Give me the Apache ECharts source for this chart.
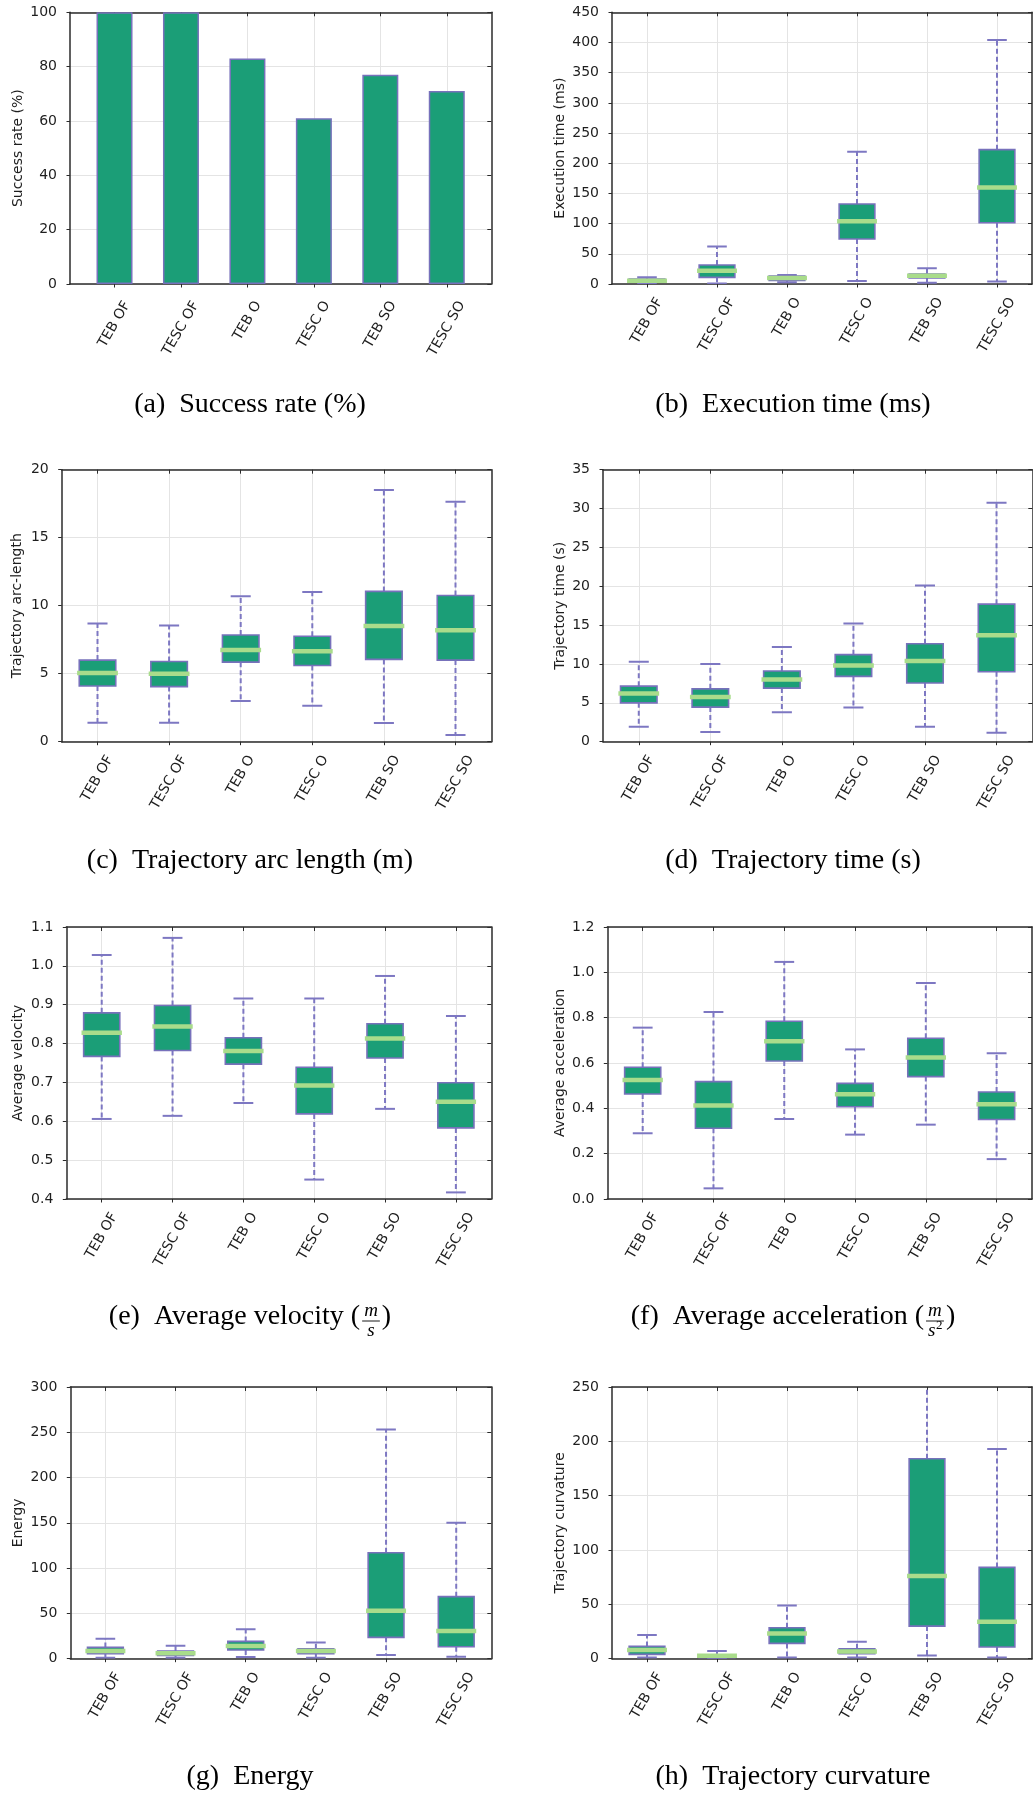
<!DOCTYPE html>
<html>
<head>
<meta charset="utf-8">
<script src="https://cdn.jsdelivr.net/npm/echarts@6/dist/echarts.min.js"></script>
<style>
  html, body { margin: 0; padding: 0; background: #ffffff; }
  #chart { width: 1033px; height: 1794px; }
</style>
</head>
<body>
<div id="chart"></div>
<script>
// Planner variants compared in every panel
const categories = ['TEB OF', 'TESC OF', 'TEB O', 'TESC O', 'TEB SO', 'TESC SO'];

// (a) success rate, percent
const successRate = [100, 100, 83, 61, 77, 71];

// Box statistics per planner: [lower whisker, Q1, median, Q3, upper whisker]
const executionTime = [
  [1, 3, 5.5, 8, 11], [1, 11, 22, 31.5, 62], [3, 6, 10, 13, 15],
  [5, 74.5, 104, 132.5, 219], [2, 10, 13.5, 16.5, 26], [4, 101.5, 160, 222.5, 404]
];
const arcLength = [
  [1.4, 4.1, 5.05, 6.0, 8.7], [1.4, 4.05, 5.0, 5.9, 8.55], [3.0, 5.85, 6.75, 7.85, 10.7],
  [2.65, 5.6, 6.65, 7.75, 11.0], [1.37, 6.05, 8.5, 11.05, 18.5], [0.5, 6.0, 8.2, 10.75, 17.65]
];
const trajectoryTime = [
  [1.93, 5.0, 6.2, 7.15, 10.3], [1.25, 4.45, 5.75, 6.8, 10.0], [3.8, 6.9, 8.0, 9.1, 12.2],
  [4.4, 8.4, 9.8, 11.2, 15.2], [1.93, 7.55, 10.4, 12.6, 20.1], [1.15, 9.0, 13.7, 17.7, 30.75]
];
const avgVelocity = [
  [0.606, 0.767, 0.828, 0.879, 1.028], [0.614, 0.782, 0.844, 0.898, 1.072], [0.647, 0.747, 0.781, 0.815, 0.916],
  [0.45, 0.619, 0.692, 0.739, 0.916], [0.632, 0.763, 0.813, 0.851, 0.974], [0.417, 0.583, 0.65, 0.699, 0.871]
];
const avgAcceleration = [
  [0.29, 0.463, 0.525, 0.581, 0.756], [0.047, 0.312, 0.412, 0.518, 0.825], [0.353, 0.609, 0.696, 0.784, 1.046],
  [0.284, 0.407, 0.462, 0.51, 0.66], [0.328, 0.54, 0.624, 0.709, 0.953], [0.176, 0.351, 0.418, 0.472, 0.643]
];
const energy = [
  [1, 5.5, 8.5, 12.5, 22], [1, 3.7, 5.9, 8.5, 14.4], [1.8, 9.6, 14, 19.1, 32.4],
  [1.1, 5.5, 8.5, 11, 18], [4, 23.6, 53, 117, 253], [2.2, 13.2, 30.5, 68.5, 150]
];
const curvature = [
  [1, 4, 8, 11.3, 21.8], [0.3, 1, 2.8, 3.7, 7], [1, 14.1, 23.3, 28.5, 49],
  [1, 4.6, 6.7, 9.2, 15.6], [3, 30, 76, 184, 290], [1, 10.7, 34, 84, 193]
];

// ---- styling ----
const BOX_FILL = '#1b9e77';
const EDGE = '#7771bb';
const WHISKER = '#7d77c2';
const MEDIAN = '#a9dc8b';
const AXIS = '#2b2b2b';
const GRID_LINE = '#e4e4e4';
const INK = '#1e1e1e';
const SANS = 'DejaVu Sans';
const SERIF = 'Liberation Serif';

const measureCtx = document.createElement('canvas').getContext('2d');
function textWidth(s, font) { measureCtx.font = font; return measureCtx.measureText(s).width; }

// Rotated tick labels: nudge each one so its bounding box is centred under the tick
const labelRich = {};
categories.forEach((c, i) => {
  const L = textWidth(c, '14px "' + SANS + '"');
  labelRich['c' + i] = {
    fontFamily: SANS, fontSize: 14, color: INK,
    padding: [0.433 * L, -0.125 * L, 0, 0]
  };
});
const tickValues = categories.map((_, i) => i);

function oneDecimal(v) { return v.toFixed(1); }

// Panel layout (pixels) and axis ranges
const panels = [
  { grid: { left: 70, top: 12.3, width: 421.3, height: 271.7 }, xMin: -0.67, xMax: 5.67,
    yMin: 0, yMax: 100, step: 20, name: 'Success rate (%)', nameGap: 45, labelMargin: 18.5, bars: successRate },
  { grid: { left: 612, top: 12.3, width: 420, height: 271.7 }, xMin: -0.5, xMax: 5.5,
    yMin: 0, yMax: 450, step: 50, name: 'Execution time (ms)', nameGap: 45, labelMargin: 15, boxes: executionTime },
  { grid: { left: 61.7, top: 469.7, width: 429.6, height: 272 }, xMin: -0.5, xMax: 5.5,
    yMin: 0, yMax: 20, step: 5, name: 'Trajectory arc-length', nameGap: 37, labelMargin: 15, boxes: arcLength },
  { grid: { left: 603, top: 469.7, width: 429.3, height: 272 }, xMin: -0.5, xMax: 5.5,
    yMin: 0, yMax: 35, step: 5, name: 'Trajectory time (s)', nameGap: 36, labelMargin: 15, boxes: trajectoryTime },
  { grid: { left: 66.3, top: 927, width: 425, height: 272 }, xMin: -0.5, xMax: 5.5,
    yMin: 0.4, yMax: 1.1, step: 0.1, name: 'Average velocity', nameGap: 41, labelMargin: 15, boxes: avgVelocity, fmt: oneDecimal },
  { grid: { left: 607.3, top: 927, width: 424.7, height: 272 }, xMin: -0.5, xMax: 5.5,
    yMin: 0, yMax: 1.2, step: 0.2, name: 'Average acceleration', nameGap: 40, labelMargin: 15, boxes: avgAcceleration, fmt: oneDecimal },
  { grid: { left: 70.3, top: 1387, width: 421, height: 271.7 }, xMin: -0.5, xMax: 5.5,
    yMin: 0, yMax: 300, step: 50, name: 'Energy', nameGap: 45, labelMargin: 15, boxes: energy },
  { grid: { left: 612, top: 1387, width: 420, height: 271.7 }, xMin: -0.5, xMax: 5.5,
    yMin: 0, yMax: 250, step: 50, name: 'Trajectory curvature', nameGap: 45, labelMargin: 15, boxes: curvature }
];

function renderBox(params, api) {
  const k = api.value(0);
  const unit = api.size([1, 0])[0];
  const at = j => api.coord([k, api.value(j)]);
  const lo = at(1);
  const x = lo[0], yLo = lo[1];
  const yQ1 = at(2)[1], yMed = at(3)[1], yQ3 = at(4)[1], yHi = at(5)[1];
  const boxW = unit * 0.51, capW = unit * 0.28, medW = unit * 0.57;
  const dashed = { stroke: WHISKER, lineWidth: 2, lineDash: [5, 3] };
  const solid = { stroke: WHISKER, lineWidth: 2 };
  return {
    type: 'group',
    children: [
      { type: 'line', shape: { x1: x, y1: yQ1, x2: x, y2: yLo }, style: dashed },
      { type: 'line', shape: { x1: x, y1: yQ3, x2: x, y2: yHi }, style: dashed },
      { type: 'line', shape: { x1: x - capW / 2, y1: yLo, x2: x + capW / 2, y2: yLo }, style: solid },
      { type: 'line', shape: { x1: x - capW / 2, y1: yHi, x2: x + capW / 2, y2: yHi }, style: solid },
      { type: 'rect', shape: { x: x - boxW / 2, y: yQ3, width: boxW, height: yQ1 - yQ3 },
        style: { fill: BOX_FILL, stroke: EDGE, lineWidth: 1.6 } },
      { type: 'line', shape: { x1: x - medW / 2, y1: yMed, x2: x + medW / 2, y2: yMed },
        style: { stroke: MEDIAN, lineWidth: 4.5 } }
    ]
  };
}

const grid = [], xAxis = [], yAxis = [], series = [];
const axisLineStyle = { color: AXIS, width: 1.5 };

panels.forEach((p, i) => {
  grid.push(Object.assign({ outerBoundsMode: 'none', containLabel: false }, p.grid));
  // bottom axis with category labels
  xAxis.push({
    type: 'value', gridIndex: i, min: p.xMin, max: p.xMax, position: 'bottom',
    axisLine: { show: true, onZero: false, lineStyle: axisLineStyle },
    axisTick: { show: true, inside: false, length: 3.5, customValues: tickValues, lineStyle: { color: AXIS, width: 1 } },
    axisLabel: {
      show: true, customValues: tickValues, rotate: 60, interval: 0, margin: p.labelMargin,
      fontFamily: SANS, fontSize: 14, color: INK,
      formatter: v => { const k = Math.round(v); return '{c' + k + '|' + categories[k] + '}'; },
      rich: labelRich
    },
    splitLine: { show: true, lineStyle: { color: GRID_LINE, width: 1 } }
  });
  // top frame edge with inward ticks
  xAxis.push({
    type: 'value', gridIndex: i, min: p.xMin, max: p.xMax, position: 'top',
    axisLine: { show: true, onZero: false, lineStyle: axisLineStyle },
    axisTick: { show: true, inside: true, length: 4, customValues: tickValues, lineStyle: { color: AXIS, width: 1 } },
    axisLabel: { show: false }, splitLine: { show: false }
  });
  yAxis.push({
    type: 'value', gridIndex: i, min: p.yMin, max: p.yMax, interval: p.step, position: 'left',
    name: p.name, nameLocation: 'middle', nameGap: p.nameGap, nameRotate: 90,
    nameTextStyle: { fontFamily: SANS, fontSize: 14, color: INK },
    axisLine: { show: true, onZero: false, lineStyle: axisLineStyle },
    axisTick: { show: true, inside: false, length: 3.5, lineStyle: { color: AXIS, width: 1 } },
    axisLabel: { show: true, margin: 13, fontFamily: SANS, fontSize: 14, color: INK, formatter: p.fmt },
    splitLine: { show: true, lineStyle: { color: GRID_LINE, width: 1 } }
  });
  // right frame edge with inward ticks
  yAxis.push({
    type: 'value', gridIndex: i, min: p.yMin, max: p.yMax, interval: p.step, position: 'right',
    axisLine: { show: true, onZero: false, lineStyle: axisLineStyle },
    axisTick: { show: true, inside: true, length: 4, lineStyle: { color: AXIS, width: 1 } },
    axisLabel: { show: false }, splitLine: { show: false }
  });

  if (p.bars) {
    series.push({
      type: 'bar', xAxisIndex: 2 * i, yAxisIndex: 2 * i, barWidth: 36,
      itemStyle: { color: BOX_FILL, borderColor: EDGE, borderWidth: 1.5 },
      data: p.bars.map((v, k) => [k, v]), silent: true, animation: false
    });
  } else {
    series.push({
      type: 'custom', xAxisIndex: 2 * i, yAxisIndex: 2 * i, clip: true,
      renderItem: renderBox, encode: { x: 0, y: [1, 2, 3, 4, 5] },
      data: p.boxes.map((b, k) => [k].concat(b)), silent: true, animation: false
    });
  }
});

// ---- sub-figure captions ----
const CAP_PX = 28;
const capFont = CAP_PX + 'px "' + SERIF + '"';
function capText(x, y, text, align, size, italic) {
  const style = {
    text: text, fontFamily: SERIF, fontSize: size || CAP_PX, fontStyle: italic ? 'italic' : 'normal',
    fill: '#000', align: align || 'center', verticalAlign: 'middle',
    textAlign: align || 'center', textVerticalAlign: 'middle'
  };
  return { type: 'text', x: x, y: y, style: style, silent: true };
}
function fractionCaption(cx, cy, lead, num, den, denSup) {
  const fracPx = 19;
  const fracFont = 'italic ' + fracPx + 'px "' + SERIF + '"';
  const wLead = textWidth(lead, capFont);
  const wClose = textWidth(')', capFont);
  const wNum = textWidth(num, fracFont);
  const wDen = textWidth(den, fracFont) + (denSup ? textWidth(denSup, '13px "' + SERIF + '"') : 0);
  const fracW = Math.max(wNum, wDen) + 6;
  const x0 = cx - (wLead + fracW + wClose + 2) / 2;
  const fx = x0 + wLead + 1;
  const els = [
    capText(x0, cy, lead, 'left'),
    capText(fx + fracW / 2, cy - 6, num, 'center', fracPx, true),
    { type: 'line', shape: { x1: fx + 1, y1: cy + 4, x2: fx + fracW - 1, y2: cy + 4 },
      style: { stroke: '#000', lineWidth: 0.9 }, silent: true },
    capText(fx + (fracW - wDen) / 2, cy + 14, den, 'left', fracPx, true),
    capText(fx + fracW + 1, cy, ')', 'left')
  ];
  if (denSup) {
    const dw = textWidth(den, fracFont);
    els.push(capText(fx + (fracW - wDen) / 2 + dw + 0.5, cy + 9, denSup, 'left', 13, false));
  }
  return els;
}

const captions = [].concat(
  [capText(250, 405, '(a)  Success rate (%)')],
  [capText(793, 405, '(b)  Execution time (ms)')],
  [capText(250, 861, '(c)  Trajectory arc length (m)')],
  [capText(793, 861, '(d)  Trajectory time (s)')],
  fractionCaption(250, 1317, '(e)  Average velocity (', 'm', 's'),
  fractionCaption(793, 1317, '(f)  Average acceleration (', 'm', 's', '2'),
  [capText(250, 1777, '(g)  Energy')],
  [capText(793, 1777, '(h)  Trajectory curvature')]
);

const chart = echarts.init(document.getElementById('chart'), null, { renderer: 'canvas' });
chart.setOption({
  backgroundColor: '#ffffff',
  animation: false,
  grid: grid,
  xAxis: xAxis,
  yAxis: yAxis,
  series: series,
  graphic: { elements: captions }
});
</script>
</body>
</html>
